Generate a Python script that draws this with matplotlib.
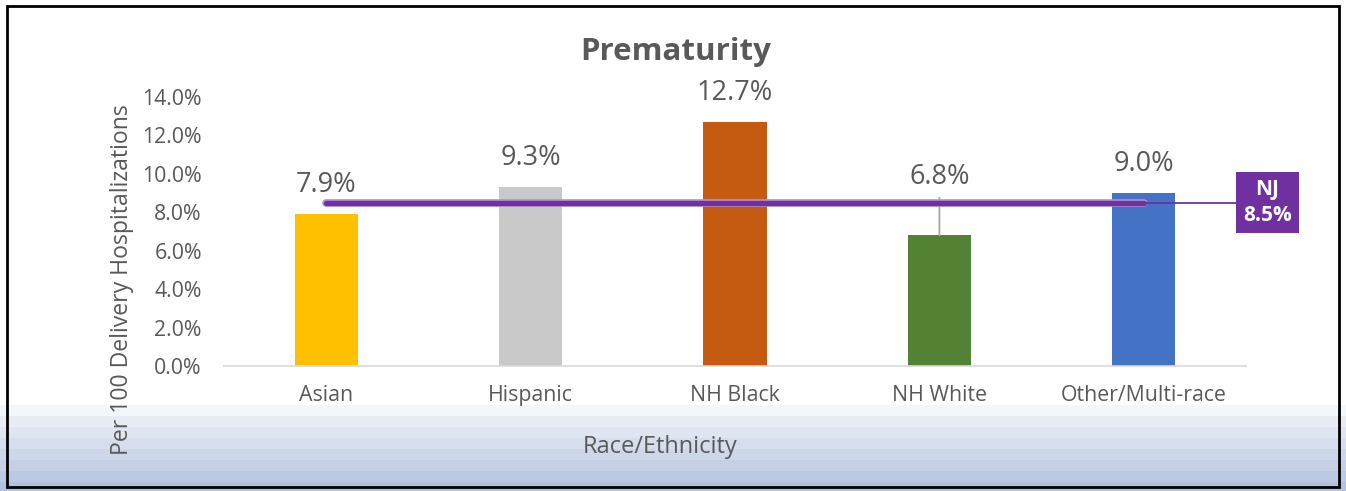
import matplotlib
matplotlib.use("Agg")
import matplotlib.pyplot as plt
from matplotlib.patches import Rectangle
import numpy as np

plt.rcParams['font.family'] = ['Open Sans', 'DejaVu Sans']

categories = ["Asian", "Hispanic", "NH Black", "NH White", "Other/Multi-race"]
rates = [7.9, 9.3, 12.7, 6.8, 9.0]
bar_colors = ["#ffc000", "#c9c9c9", "#c55a11", "#548235", "#4472c4"]
nj_rate = 8.5
yticks = [0, 2, 4, 6, 8, 10, 12, 14]

TEXT = "#595959"
PURPLE = "#7030a0"

W, H = 1346, 491
fig = plt.figure(figsize=(W / 100, H / 100), dpi=100)

# background layer: banded blue gradient at the bottom and the outer frame
bg = fig.add_axes([0, 0, 1, 1], zorder=-1)
bg.set_xlim(0, W)
bg.set_ylim(H, 0)
bg.axis('off')
band_cols = ["#f3f6fb", "#e7ecf5", "#dfe5f1", "#d6deee", "#cdd7ea",
             "#c5d0e6", "#bcc9e2", "#b3c2de"]
band_top, band_h = 405, 11
for i, c in enumerate(band_cols):
    bg.add_patch(Rectangle((0, band_top + i * band_h), W, band_h + 0.5,
                           facecolor=c, edgecolor='none'))
bg.add_patch(Rectangle((7, 6), 1332, 481, facecolor='none',
                       edgecolor='black', linewidth=2))

ax = fig.add_axes([224 / W, 1 - 366 / H, 1022 / W, 269 / H], zorder=1)
ax.patch.set_alpha(0)
x = np.arange(len(categories))
ax.bar(x, rates, width=0.31, color=bar_colors, zorder=2)

ax.set_xlim(-0.5, len(categories) - 0.5)
ax.set_ylim(0, 14)
ax.set_yticks(yticks)
ax.set_yticklabels([f"{v:.1f}%" for v in yticks])
ax.set_xticks(x)
ax.set_xticklabels(categories)
ax.tick_params(axis='y', length=0, pad=16, labelsize=15.3, labelcolor=TEXT)
ax.tick_params(axis='x', length=0, pad=14, labelsize=15.3, labelcolor=TEXT)
for s in ['top', 'right', 'left']:
    ax.spines[s].set_visible(False)
ax.spines['bottom'].set_color('#d9d9d9')
ax.spines['bottom'].set_linewidth(1.2)

# state average line
nj = [nj_rate] * len(categories)
ax.plot(x, nj, color="#b48fd0", linewidth=5.5, solid_capstyle='round', zorder=3)
ax.plot(x, nj, color=PURPLE, linewidth=3.8, solid_capstyle='round', zorder=4)
ax.plot([x[-1], 4.45], [nj_rate, nj_rate], color=PURPLE, linewidth=1.3,
        zorder=3, clip_on=False)
ax.text(4.605, nj_rate, f"NJ\n{nj_rate:.1f}%", ha='center', va='center',
        color='white', fontsize=15, fontweight='bold', linespacing=1.35,
        bbox=dict(boxstyle='square,pad=0.33', facecolor=PURPLE,
                  edgecolor='none'), zorder=5, clip_on=False)

# value labels
for xi, v in zip(x, rates):
    if categories[xi] == "NH White":
        ax.annotate(f"{v:.1f}%", xy=(xi, v), xytext=(xi, 9.85),
                    ha='center', va='center', fontsize=19.5, color=TEXT,
                    arrowprops=dict(arrowstyle='-', color='#a6a6a6', lw=1.3,
                                    shrinkA=3, shrinkB=0), zorder=2,
                    annotation_clip=False)
    else:
        ax.annotate(f"{v:.1f}%", xy=(xi, v), xytext=(0, 21),
                    textcoords='offset points', ha='center', va='center',
                    fontsize=19.5, color=TEXT, annotation_clip=False)

fig.text(676 / W, 1 - 52 / H, "Prematurity", fontsize=22.5, fontweight='bold',
         color=TEXT, ha='center', va='center')
ax.set_xlabel("Race/Ethnicity", fontsize=17, color=TEXT)
ax.xaxis.set_label_coords((660 - 224) / 1022, -0.30)
ax.xaxis.label.set_va('center')
ax.set_ylabel("Per 100 Delivery Hospitalizations", fontsize=16.6, color=TEXT)
ax.yaxis.set_label_coords(-0.0998, 0.32)
ax.yaxis.label.set_va('center')

fig.savefig("out.png", dpi=100)
